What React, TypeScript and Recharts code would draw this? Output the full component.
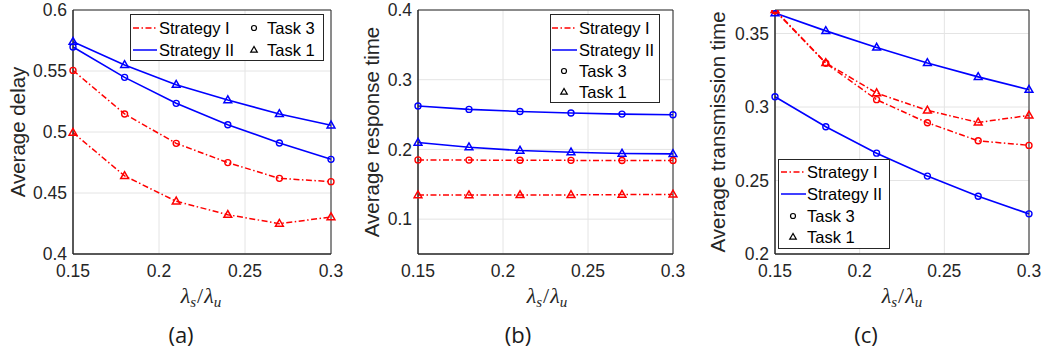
import React from 'react';
import { LineChart, Line, XAxis, YAxis, CartesianGrid, ReferenceArea } from 'recharts';

const xValues = [0.15, 0.18, 0.21, 0.24, 0.27, 0.3];
const xTicks = [0.15, 0.2, 0.25, 0.3];

const delayS1Task3 = [0.5505, 0.5148, 0.4907, 0.4749, 0.462, 0.4593];
const delayS1Task1 = [0.4995, 0.464, 0.4432, 0.4322, 0.4249, 0.4303];
const delayS2Task3 = [0.5697, 0.5448, 0.5235, 0.506, 0.491, 0.4776];
const delayS2Task1 = [0.574, 0.555, 0.5388, 0.5262, 0.5148, 0.5055];
const delayTicks = [0.4, 0.45, 0.5, 0.55, 0.6];
const delayDomain = [0.4, 0.6];

const respS1Task3 = [0.185, 0.1847, 0.1845, 0.1843, 0.1842, 0.1841];
const respS1Task1 = [0.1345, 0.1345, 0.1346, 0.1348, 0.1352, 0.1355];
const respS2Task3 = [0.2622, 0.2574, 0.2545, 0.2522, 0.2507, 0.2497];
const respS2Task1 = [0.2099, 0.2032, 0.1984, 0.196, 0.1941, 0.1936];
const respTicks = [0.1, 0.2, 0.3, 0.4];
const respDomain = [0.05, 0.4];

const transS1Task3 = [0.3655, 0.3298, 0.305, 0.2893, 0.277, 0.2739];
const transS1Task1 = [0.366, 0.33, 0.3095, 0.2977, 0.2895, 0.2943];
const transS2Task3 = [0.307, 0.2866, 0.2686, 0.253, 0.2393, 0.2273];
const transS2Task1 = [0.3639, 0.3518, 0.3405, 0.33, 0.3205, 0.3118];
const transTicks = [0.2, 0.25, 0.3, 0.35];
const transDomain = [0.2, 0.366];

const RED = '#ff0000';
const BLUE = '#0000ff';
const AXIS = '#262626';
const GRID = '#e4e4e4';
const DASHDOT = '6 2.5 1.5 2.5';

function buildData(s1t3: number[], s1t1: number[], s2t3: number[], s2t1: number[]) {
  return xValues.map((x, i) => ({ x, s1t3: s1t3[i], s1t1: s1t1[i], s2t3: s2t3[i], s2t1: s2t1[i] }));
}

const circleDot = (color: string) => (props: any) => {
  const { cx, cy, index } = props;
  if (cx == null || cy == null) return <g key={`c${index}`} />;
  return <circle key={`c${index}`} cx={cx} cy={cy} r={3} fill="none" stroke={color} strokeWidth={1.4} />;
};

const triDot = (color: string) => (props: any) => {
  const { cx, cy, index } = props;
  if (cx == null || cy == null) return <g key={`t${index}`} />;
  const pts = `${cx},${cy - 4.2} ${cx - 3.9},${cy + 2.6} ${cx + 3.9},${cy + 2.6}`;
  return <polygon key={`t${index}`} points={pts} fill="none" stroke={color} strokeWidth={1.5} strokeLinejoin="miter" />;
};

const tickStyle = { fill: AXIS, fontSize: 17.5, fontFamily: 'Liberation Sans, Arial, sans-serif' };

type PanelProps = {
  left: number;
  width: number;
  yAxisWidth: number;
  marginRight: number;
  domain: number[];
  ticks: number[];
  data: any[];
  yLabel: string;
  yLabelX: number;
};

function Panel(p: PanelProps) {
  return (
    <div style={{ position: 'absolute', left: p.left, top: 0, width: p.width, height: 354 }}>
      <LineChart width={p.width} height={354} data={p.data} margin={{ top: 10, right: p.marginRight, bottom: 0, left: 0 }}>
        <CartesianGrid stroke={GRID} strokeWidth={1} />
        <XAxis
          dataKey="x"
          type="number"
          domain={[0.15, 0.3]}
          ticks={xTicks}
          interval={0}
          tickLine={false}
          tickSize={0}
          tickMargin={11}
          height={100}
          axisLine={{ stroke: AXIS, strokeWidth: 1 }}
          tick={tickStyle}
        />
        <YAxis
          type="number"
          domain={p.domain}
          ticks={p.ticks}
          interval={0}
          tickLine={false}
          tickSize={0}
          tickMargin={6}
          width={p.yAxisWidth}
          axisLine={{ stroke: AXIS, strokeWidth: 1 }}
          tick={tickStyle}
          allowDataOverflow
          label={{
            content: () => (
              <text
                transform={`translate(${p.yLabelX},132) rotate(-90)`}
                textAnchor="middle"
                dominantBaseline="central"
                fill={AXIS}
                fontSize={20.5}
                fontFamily="Liberation Sans, Arial, sans-serif"
              >
                {p.yLabel}
              </text>
            ),
          }}
        />
        <ReferenceArea x1={0.15} x2={0.3} y1={p.domain[0]} y2={p.domain[1]} fill="none" fillOpacity={0} stroke={AXIS} strokeWidth={1} />
        <Line dataKey="s2t1" stroke={BLUE} strokeWidth={1.6} dot={triDot(BLUE)} activeDot={false} isAnimationActive={false} />
        <Line dataKey="s2t3" stroke={BLUE} strokeWidth={1.6} dot={circleDot(BLUE)} activeDot={false} isAnimationActive={false} />
        <Line dataKey="s1t3" stroke={RED} strokeWidth={1.5} strokeDasharray={DASHDOT} dot={circleDot(RED)} activeDot={false} isAnimationActive={false} />
        <Line dataKey="s1t1" stroke={RED} strokeWidth={1.5} strokeDasharray={DASHDOT} dot={triDot(RED)} activeDot={false} isAnimationActive={false} />
      </LineChart>
    </div>
  );
}

const legendFont = { fontSize: 16.5, fontFamily: 'Liberation Sans, Arial, sans-serif', fill: '#000' };

function LegendSampleLine({ x1, x2, y, color, dashed }: any) {
  return <line x1={x1} x2={x2} y1={y} y2={y} stroke={color} strokeWidth={1.5} strokeDasharray={dashed ? DASHDOT : undefined} />;
}
function LegendCircle({ x, y }: any) {
  return <circle cx={x} cy={y} r={2.5} fill="none" stroke="#000" strokeWidth={1.2} />;
}
function LegendTri({ x, y }: any) {
  return <polygon points={`${x},${y - 3.5} ${x - 3.3},${y + 2.2} ${x + 3.3},${y + 2.2}`} fill="none" stroke="#000" strokeWidth={1.2} />;
}

function XLabel({ cx }: { cx: number }) {
  return (
    <text x={cx} y={303} textAnchor="middle" fontFamily="Liberation Serif, Times New Roman, serif" fontSize={22} fill={AXIS}>
      <tspan fontStyle="italic">λ</tspan>
      <tspan fontStyle="italic" fontSize={15} dy={4}>s</tspan>
      <tspan dy={-4} dx={1}>/</tspan>
      <tspan fontStyle="italic" dx={1}>λ</tspan>
      <tspan fontStyle="italic" fontSize={15} dy={4}>u</tspan>
    </text>
  );
}

function Caption({ cx, label }: { cx: number; label: string }) {
  return (
    <text x={cx} y={334} textAnchor="middle" dominantBaseline="central" fontFamily="Open Sans, sans-serif" fontWeight={400} fontSize={22} fill="#1a1a1a">
      {label}
    </text>
  );
}

function Overlay() {
  return (
    <svg width={1042} height={354} style={{ position: 'absolute', left: 0, top: 0, pointerEvents: 'none' }}>
      {/* Legend (a) */}
      <rect x={130.5} y={14.5} width={193} height={46} fill="#fff" stroke={AXIS} strokeWidth={1} />
      <LegendSampleLine x1={133} x2={157} y={28} color={RED} dashed />
      <text x={159} y={28} dominantBaseline="central" {...legendFont}>Strategy I</text>
      <LegendSampleLine x1={133} x2={157} y={50} color={BLUE} />
      <text x={159} y={50} dominantBaseline="central" {...legendFont}>Strategy II</text>
      <LegendCircle x={254} y={28} />
      <text x={267} y={28} dominantBaseline="central" {...legendFont}>Task 3</text>
      <LegendTri x={254} y={50} />
      <text x={267} y={50} dominantBaseline="central" {...legendFont}>Task 1</text>

      {/* Legend (b) */}
      <rect x={550.5} y={14.5} width={109} height={88} fill="#fff" stroke={AXIS} strokeWidth={1} />
      <LegendSampleLine x1={552} x2={577} y={28} color={RED} dashed />
      <text x={579} y={28} dominantBaseline="central" {...legendFont}>Strategy I</text>
      <LegendSampleLine x1={552} x2={577} y={50} color={BLUE} />
      <text x={579} y={50} dominantBaseline="central" {...legendFont}>Strategy II</text>
      <LegendCircle x={564} y={71} />
      <text x={579} y={71} dominantBaseline="central" {...legendFont}>Task 3</text>
      <LegendTri x={564} y={92} />
      <text x={579} y={92} dominantBaseline="central" {...legendFont}>Task 1</text>

      {/* Legend (c) */}
      <rect x={778.5} y={159.5} width={111} height={89} fill="#fff" stroke={AXIS} strokeWidth={1} />
      <LegendSampleLine x1={781} x2={806} y={172} color={RED} dashed />
      <text x={807} y={172} dominantBaseline="central" {...legendFont}>Strategy I</text>
      <LegendSampleLine x1={781} x2={806} y={194} color={BLUE} />
      <text x={807} y={194} dominantBaseline="central" {...legendFont}>Strategy II</text>
      <LegendCircle x={793} y={216} />
      <text x={807} y={216} dominantBaseline="central" {...legendFont}>Task 3</text>
      <LegendTri x={793} y={237} />
      <text x={807} y={237} dominantBaseline="central" {...legendFont}>Task 1</text>

      <XLabel cx={201} />
      <XLabel cx={547} />
      <XLabel cx={902} />
      <Caption cx={181} label="(a)" />
      <Caption cx={518} label="(b)" />
      <Caption cx={866} label="(c)" />
    </svg>
  );
}

export default function App() {
  const dataA = buildData(delayS1Task3, delayS1Task1, delayS2Task3, delayS2Task1);
  const dataB = buildData(respS1Task3, respS1Task1, respS2Task3, respS2Task1);
  const dataC = buildData(transS1Task3, transS1Task1, transS2Task3, transS2Task1);
  return (
    <div style={{ position: 'absolute', left: 0, top: 0, width: 1042, height: 354, background: '#fff', overflow: 'hidden' }}>
      <Panel left={0} width={345} yAxisWidth={73} marginRight={14} domain={delayDomain} ticks={delayTicks} data={dataA} yLabel="Average delay" yLabelX={17} />
      <Panel left={345} width={345} yAxisWidth={73} marginRight={17} domain={respDomain} ticks={respTicks} data={dataB} yLabel="Average response time" yLabelX={26} />
      <Panel left={690} width={352} yAxisWidth={85} marginRight={13} domain={transDomain} ticks={transTicks} data={dataC} yLabel="Average transmission time" yLabelX={27} />
      <Overlay />
    </div>
  );
}
